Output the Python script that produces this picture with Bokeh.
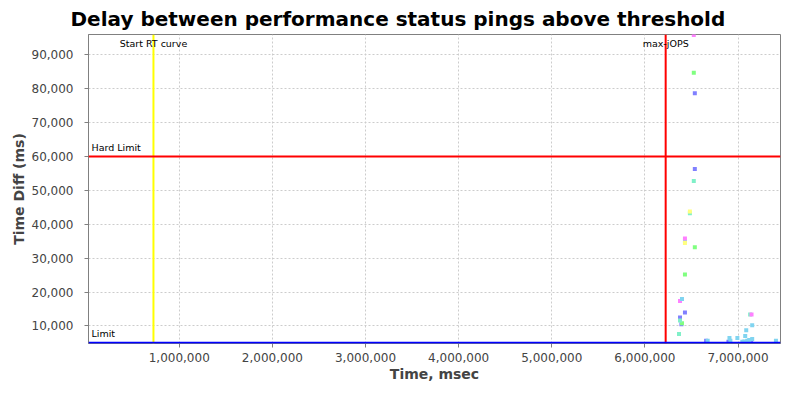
from bokeh.plotting import figure
from bokeh.models import Range1d, Span, Label, NumeralTickFormatter, SingleIntervalTicker
from bokeh.embed import file_html
from bokeh.resources import INLINE

# ---- data ----
title_text = "Delay between performance status pings above threshold"
x_label = "Time, msec"
y_label = "Time Diff (ms)"

start_rt_x = 723000
max_jops_x = 6223000
hard_limit_y = 60000
limit_y = 5000

blue_x = [6536000, 6536000, 6430000, 6377000, 6392000, 6657000, 6897000, 7141000]
blue_y = [78690, 56330, 13930, 12500, 10480, 5590, 5300, 5880]

green_x = [6525000, 6536000, 6430000, 6398000]
green_y = [84730, 33220, 25160, 10770]

mint_x = [6525000, 6483000, 6430000, 6366000, 6377000, 7130000]
mint_y = [52790, 43300, 35030, 7600, 11630, 13360]

magenta_x = [6525000, 6430000, 6377000, 7145000]
magenta_y = [95900, 35810, 17390, 13360]

yellow_x = [6483000, 6430000]
yellow_y = [43800, 34450]

lightblue_x = [6398000, 6674000, 6908000, 6918000, 6993000, 7077000, 7088000,
               7152000, 7046000, 7067000, 7099000, 7120000, 7152000, 7407000]
lightblue_y = [17960, 5590, 6450, 5590, 6450, 7030, 8755,
               10190, 5300, 5390, 5590, 5880, 6160, 5590]

x_start, x_end = 25500, 7456000
y_start, y_end = 4810, 96050

FONT = "DejaVu Sans"

p = figure(width=784, height=384,
           x_range=Range1d(x_start, x_end), y_range=Range1d(y_start, y_end),
           output_backend="svg", toolbar_location=None,
           min_border_left=88, min_border_right=4,
           min_border_top=34, min_border_bottom=41)

p.background_fill_color = "white"
p.border_fill_color = "white"
p.outline_line_color = "#808080"
p.outline_line_width = 1

p.title.text = title_text
p.title.text_font = FONT
p.title.text_font_size = "20px"
p.title.text_font_style = "bold"
p.title.text_color = "black"
p.title.align = "left"
p.title.offset = -18
p.title.standoff = 8

for ax in (p.xaxis[0], p.yaxis[0]):
    ax.axis_line_color = "#808080"
    ax.major_tick_line_color = "#808080"
    ax.major_tick_in = 0
    ax.major_tick_out = 4
    ax.minor_tick_line_color = None
    ax.major_label_text_font = FONT
    ax.major_label_text_font_size = "12px"
    ax.major_label_text_color = "#444444"
    ax.axis_label_text_font = FONT
    ax.axis_label_text_font_size = "14px"
    ax.axis_label_text_font_style = "bold"
    ax.axis_label_text_color = "#444444"
    ax.formatter = NumeralTickFormatter(format="0,0")

p.xaxis[0].ticker = SingleIntervalTicker(interval=1000000)
p.yaxis[0].ticker = SingleIntervalTicker(interval=10000)
p.xaxis[0].axis_label = x_label
p.yaxis[0].axis_label = y_label
p.xaxis[0].major_label_standoff = 5
p.xaxis[0].axis_label_standoff = 1
p.yaxis[0].major_label_standoff = 11
p.yaxis[0].axis_label_standoff = 2

for g in (p.xgrid[0], p.ygrid[0]):
    g.grid_line_color = "#cccccc"
    g.grid_line_dash = "2 2"
    g.grid_line_width = 1

p.add_layout(Span(location=start_rt_x, dimension="height", line_color="#ffff00", line_width=2))
p.add_layout(Span(location=max_jops_x, dimension="height", line_color="#ff0000", line_width=2))
p.add_layout(Span(location=hard_limit_y, dimension="width", line_color="#ff0000", line_width=2))
p.add_layout(Span(location=limit_y, dimension="width", line_color="#0000ff", line_width=2))

lab_kw = dict(text_font=FONT, text_font_size="9.5px", text_color="black")
p.add_layout(Label(x=start_rt_x, y=y_end, y_offset=-3, text="Start RT curve",
                   text_align="center", text_baseline="top", **lab_kw))
p.add_layout(Label(x=max_jops_x, y=y_end, y_offset=-3, text="max-jOPS",
                   text_align="center", text_baseline="top", **lab_kw))
p.add_layout(Label(x=x_start, x_offset=3, y=hard_limit_y, y_offset=4, text="Hard Limit",
                   text_align="left", text_baseline="bottom", **lab_kw))
p.add_layout(Label(x=x_start, x_offset=3, y=limit_y, y_offset=4, text="Limit",
                   text_align="left", text_baseline="bottom", **lab_kw))

series = [
    (blue_x, blue_y, "#8080ff"),
    (green_x, green_y, "#80ff80"),
    (mint_x, mint_y, "#80f0c8"),
    (magenta_x, magenta_y, "#ff80ff"),
    (yellow_x, yellow_y, "#ffff80"),
    (lightblue_x, lightblue_y, "#80d4f0"),
]
for xs, ys, c in series:
    p.scatter(xs, ys, marker="square", size=4, fill_color=c, line_color=None)

open("out.html", "w").write(file_html(p, INLINE))
